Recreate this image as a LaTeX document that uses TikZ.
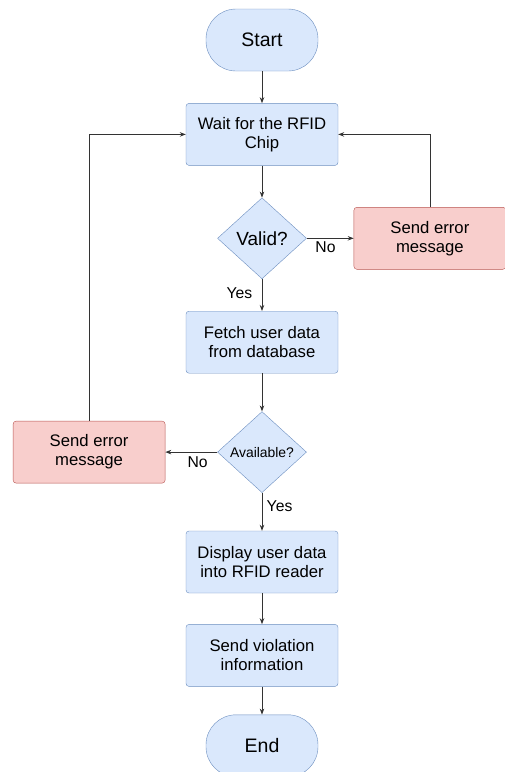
\documentclass[tikz,border=0pt]{standalone}
\usepackage{fontspec}
\setmainfont{Liberation Sans}
\usepackage{xcolor}
\usetikzlibrary{arrows.meta, positioning, shapes.geometric}

\definecolor{birumuda}{HTML}{DAE8FC}
\definecolor{birutepi}{HTML}{6C8EBF}
\definecolor{merahmuda}{HTML}{F8CECC}
\definecolor{merahtepi}{HTML}{B85450}
\definecolor{garis}{HTML}{333333}

\begin{document}
\begin{tikzpicture}[
    x=1pt, y=-1pt,
    node distance=32pt and 47pt,
    proses/.style={draw=birutepi, fill=birumuda, rounded corners=3pt, minimum height=62pt,
                   minimum width=152pt, align=center, font=\fontsize{16.7}{19}\selectfont},
    galat/.style={proses, draw=merahtepi, fill=merahmuda, minimum width=152pt},
    keputusan/.style={diamond, draw=birutepi, fill=birumuda, inner sep=0pt,
                      minimum width=89pt, minimum height=81pt},
    ujung/.style={draw=birutepi, fill=birumuda, rounded corners=30pt, minimum width=112pt,
                  minimum height=62pt, font=\fontsize{19.5}{22}\selectfont},
    label/.style={font=\fontsize{15.7}{18}\selectfont},
    panah/.style={-{Stealth[length=6pt, width=4.5pt]}, draw=garis, line width=0.8pt}
  ]
    \useasboundingbox (0,0) rectangle (505,772);

    \node[ujung] (start) at (262,40) {Start};
    \node[proses, below=of start] (tunggu) {Wait for the RFID\\Chip};
    \node[keputusan, below=of tunggu, font=\fontsize{19}{22}\selectfont] (valid) {Valid?};
    \node[galat, right=of valid] (galat1) {Send error\\message};
    \node[proses, below=of valid] (ambil) {Fetch user data\\from database};
    \node[keputusan, below=38pt of ambil, font=\fontsize{13.9}{16}\selectfont] (ada) {Available?};
    \node[galat, left=52pt of ada] (galat2) {Send error\\message};
    \node[proses, below=38pt of ada] (tampil) {Display user data\\into RFID reader};
    \node[proses, below=31pt of tampil] (kirim) {Send violation\\information};
    \node[ujung, below=28pt of kirim] (selesai) {End};

    \draw[panah] (start) -- (tunggu);
    \draw[panah] (tunggu) -- (valid);
    \draw[panah] (valid) -- node[label, below, pos=0.4] {No} (galat1);
    \draw[panah] (galat1.north) |- (tunggu.east);
    \draw[panah] (valid) -- node[label, left=6pt, pos=0.45] {Yes} (ambil);
    \draw[panah] (ambil) -- (ada);
    \draw[panah] (ada) -- node[label, below=1pt, pos=0.38] {No} (galat2);
    \draw[panah] (galat2.north) |- (tunggu.west);
    \draw[panah] (ada) -- node[label, right=1pt, pos=0.35] {Yes} (tampil);
    \draw[panah] (tampil) -- (kirim);
    \draw[panah] (kirim) -- (selesai);
  \end{tikzpicture}
\end{document}
